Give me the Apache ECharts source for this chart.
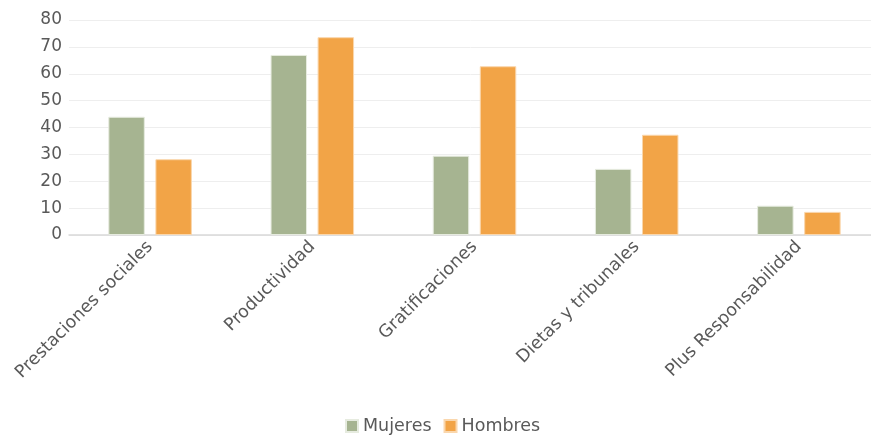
<!DOCTYPE html>
<html>
<head>
<meta charset="utf-8">
<script src="https://cdn.jsdelivr.net/npm/echarts@6/dist/echarts.min.js"></script>
<style>
    html, body { margin: 0; padding: 0; background: #fff; }
    #chart { width: 871px; height: 441px; }
</style>
</head>
<body>
<div id="chart"></div>
<script>
var categories = ['Prestaciones sociales', 'Productividad', 'Gratificaciones', 'Dietas y tribunales', 'Plus Responsabilidad'];
var mujeres = [44, 67, 29.5, 24.6, 10.9];
var hombres = [28.2, 73.6, 62.8, 37.3, 8.6];
var yTicks = [0, 80, 10];

var myChart = echarts.init(document.getElementById('chart'));

var option = {
    textStyle: {
        fontFamily: 'DejaVu Sans'
    },
    grid: {
        left: 69,
        top: 20,
        width: 811,
        height: 215,
        outerBoundsMode: 'none'
    },
    legend: {
        data: ['Mujeres', 'Hombres'],
        bottom: 1,
        left: 340,
        itemWidth: 12,
        itemHeight: 12,
        itemGap: 12,
        icon: 'rect',
        textStyle: {
            fontSize: 17.5,
            color: '#595959'
        }
    },
    xAxis: {
        type: 'category',
        data: categories,
        axisLine: { lineStyle: { color: '#d9d9d9', width: 1.5 } },
        axisTick: { show: false },
        axisLabel: {
            rotate: 45,
            interval: 0,
            fontSize: 17.5,
            color: '#595959',
            margin: 9
        }
    },
    yAxis: {
        type: 'value',
        min: yTicks[0],
        max: yTicks[1],
        interval: yTicks[2],
        axisLine: { show: false },
        axisTick: { show: false },
        splitLine: { lineStyle: { color: '#eeeeee', width: 1 } },
        axisLabel: {
            fontSize: 17,
            color: '#595959',
            margin: 7
        }
    },
    series: [{
            name: 'Mujeres',
            type: 'bar',
            data: mujeres,
            barGap: '29%',
            barCategoryGap: '48.5%',
            itemStyle: {
                color: '#a6b491',
                borderColor: '#e6ebdf',
                borderWidth: 1
            }
        },
        {
            name: 'Hombres',
            type: 'bar',
            data: hombres,
            itemStyle: {
                color: '#f2a447',
                borderColor: '#fad7ad',
                borderWidth: 1
            }
        }
    ]
};

myChart.setOption(option);
</script>
</body>
</html>
